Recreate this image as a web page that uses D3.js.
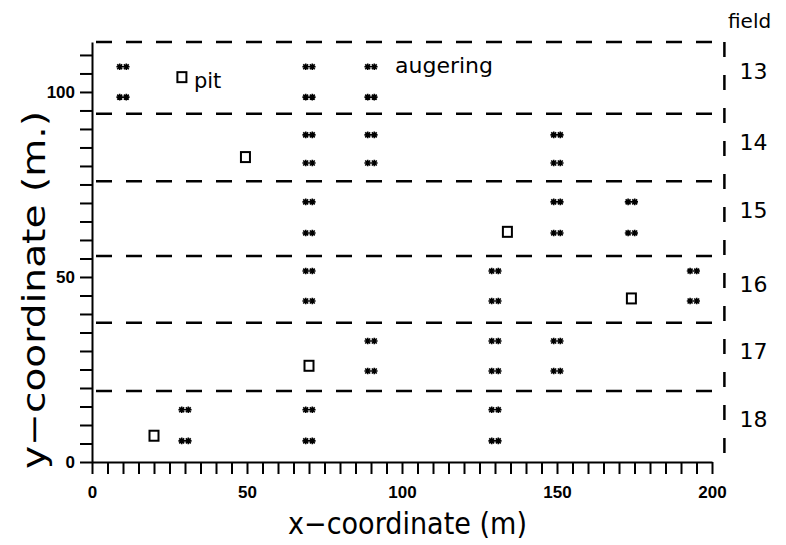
<!DOCTYPE html>
<html>
<head>
<meta charset="utf-8">
<script src="https://cdn.jsdelivr.net/npm/d3@7/dist/d3.min.js"></script>
<style>
  html, body { margin: 0; padding: 0; background: #fff; }
  svg { display: block; }
  .tick text { font-family: "Liberation Sans", Arial, sans-serif; font-weight: bold; font-size: 17px; }
</style>
</head>
<body>
<svg id="chart" width="786" height="545"></svg>
<script>
// Data
const fieldNames = ['18', '17', '16', '15', '14', '13'];
const fieldTops = [19.2, 37.6, 55.7, 75.9, 94.1, 113.5];   // upper boundary of each field (m)
const fieldRight = 204;                                    // right edge of the field strips (m)

const pits = [[29, 104], [49.5, 82.4], [134, 62.2], [174, 44.2], [70, 26], [20, 7.1]];

const augerings = [
  [10, 106.8], [10, 98.6], [70, 106.8], [70, 98.6], [90, 106.8], [90, 98.6],
  [70, 88.4], [70, 80.8], [90, 88.4], [90, 80.8], [150, 88.4], [150, 80.8],
  [70, 70.3], [70, 61.9], [150, 70.3], [150, 61.9], [174, 70.3], [174, 61.9],
  [70, 51.6], [70, 43.5], [130, 51.6], [130, 43.5], [194, 51.6], [194, 43.5],
  [90, 32.7], [90, 24.6], [130, 32.7], [130, 24.6], [150, 32.7], [150, 24.6],
  [30, 14.1], [30, 5.7], [70, 14.1], [70, 5.7], [130, 14.1], [130, 5.7]
];

const xTickLabels = [0, 50, 100, 150, 200];
const yTickLabels = [0, 50, 100];

const svg = d3.select('#chart');

// Scales
const x = d3.scaleLinear().domain([0, 200]).range([92, 712]);
const y = d3.scaleLinear().domain([0, 113.5]).range([462, 42]);

// Field strips (dashed)
const g = svg.append('g');
g.selectAll('line.field')
  .data(fieldTops)
  .join('line')
  .attr('class', 'field')
  .attr('x1', x(0) + 4)
  .attr('x2', x(fieldRight))
  .attr('y1', d => y(d))
  .attr('y2', d => y(d))
  .attr('stroke', '#000')
  .attr('stroke-width', 2.5)
  .attr('stroke-dasharray', '16,14');

g.append('line')
  .attr('x1', x(fieldRight)).attr('x2', x(fieldRight))
  .attr('y1', y(fieldTops[fieldTops.length - 1])).attr('y2', y(0))
  .attr('stroke', '#000')
  .attr('stroke-width', 2.5)
  .attr('stroke-dasharray', '15,18');

// Field numbers
g.selectAll('text.fname')
  .data(fieldNames)
  .join('text')
  .attr('class', 'fname')
  .attr('x', x(fieldRight) + 15)
  .attr('y', (d, i) => y(fieldTops[i]) + 29)
  .attr('dominant-baseline', 'central')
  .attr('font-family', '"DejaVu Sans", sans-serif')
  .attr('font-size', 22)
  .text(d => d);

g.append('text')
  .attr('x', 728).attr('y', 28)
  .attr('font-family', '"DejaVu Sans", sans-serif')
  .attr('font-size', 20)
  .text('field');

// Axes
const xAxis = d3.axisBottom(x)
  .tickValues(d3.range(0, 201, 5))
  .tickSize(12)
  .tickSizeOuter(0)
  .tickPadding(12)
  .tickFormat(d => xTickLabels.includes(d) ? d : '');

const yAxis = d3.axisLeft(y)
  .tickValues(d3.range(0, 111, 5))
  .tickSize(12)
  .tickSizeOuter(0)
  .tickPadding(5)
  .tickFormat(d => yTickLabels.includes(d) ? d : '');

const gx = svg.append('g').attr('transform', `translate(0,${y(0)})`).call(xAxis);
const gy = svg.append('g').attr('transform', `translate(${x(0)},0)`).call(yAxis);
[gx, gy].forEach(a => {
  a.selectAll('path.domain').attr('stroke-width', 2);
  a.selectAll('.tick line').attr('stroke-width', 2);
  // drop the empty labels of the minor ticks
  a.selectAll('.tick text').filter(function () { return this.textContent === ''; }).remove();
});

// Pits
svg.selectAll('rect.pit')
  .data(pits)
  .join('rect')
  .attr('class', 'pit')
  .attr('x', d => x(d[0]) - 4.5)
  .attr('y', d => y(d[1]) - 5)
  .attr('width', 9)
  .attr('height', 10)
  .attr('fill', '#fff')
  .attr('stroke', '#000')
  .attr('stroke-width', 2);

// Augerings drawn as a pair of small asterisks
function star(cx, r) {
  const k = r * 0.75;
  return `M${cx - r},0L${cx + r},0M${cx},${-r}L${cx},${r}` +
    `M${cx - k},${-k}L${cx + k},${k}M${cx - k},${k}L${cx + k},${-k}`;
}
const augPath = star(-3.3, 3.3) + star(3.3, 3.3);
svg.selectAll('path.aug')
  .data(augerings)
  .join('path')
  .attr('class', 'aug')
  .attr('transform', d => `translate(${x(d[0])},${y(d[1])})`)
  .attr('d', augPath)
  .attr('fill', 'none')
  .attr('stroke', '#000')
  .attr('stroke-width', 1.6);

// Annotations
svg.append('text')
  .attr('x', x(pits[0][0]) + 12)
  .attr('y', y(pits[0][1]) + 11)
  .attr('font-family', '"DejaVu Sans", sans-serif')
  .attr('font-size', 21)
  .text('pit');

svg.append('text')
  .attr('x', x(90) + 24)
  .attr('y', y(106.8) + 6)
  .attr('font-family', '"DejaVu Sans", sans-serif')
  .attr('font-size', 22)
  .text('augering');

// Axis titles
svg.append('text')
  .attr('x', 288).attr('y', 534)
  .attr('font-family', '"DejaVu Sans", sans-serif')
  .attr('font-size', 30)
  .attr('textLength', 239)
  .attr('lengthAdjust', 'spacingAndGlyphs')
  .text('x−coordinate (m)');

svg.append('text')
  .attr('transform', 'translate(45,290) rotate(-90)')
  .attr('text-anchor', 'middle')
  .attr('font-family', '"DejaVu Sans", sans-serif')
  .attr('font-size', 32)
  .attr('textLength', 358)
  .attr('lengthAdjust', 'spacingAndGlyphs')
  .text('y−coordinate (m.)');
</script>
</body>
</html>
